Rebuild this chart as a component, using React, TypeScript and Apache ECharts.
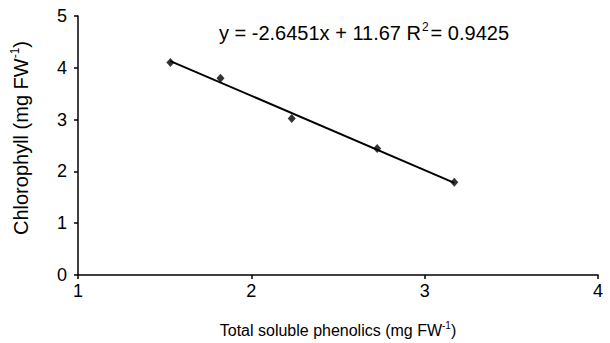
import React, { useEffect, useRef } from "react";
import * as echarts from "echarts";

const phenolics = [1.533, 1.822, 2.233, 2.726, 3.171];
const chlorophyll = [4.1, 3.8, 3.02, 2.44, 1.79];
const trendX = [1.533, 3.171];
const trendY = [4.13, 1.78];
const xTicks = [1, 2, 3, 4];
const yTicks = [0, 1, 2, 3, 4, 5];

const FONT = "'Liberation Sans', Arial, sans-serif";

export default function App() {
  const ref = useRef<HTMLDivElement>(null);
  useEffect(() => {
    if (!ref.current) return;
    const chart = echarts.init(ref.current, undefined, { renderer: "svg" });
    const points = phenolics.map((x, i) => [x, chlorophyll[i]]);
    const trend = trendX.map((x, i) => [x, trendY[i]]);
    chart.setOption({
      animation: false,
      backgroundColor: "#fff",
      textStyle: { fontFamily: FONT },
      title: {
        text: "{a|y = -2.6451x + 11.67 R}{s|2}{a|= 0.9425}",
        left: 359,
        top: 16,
        textAlign: "center",
        textStyle: {
          fontWeight: "normal",
          rich: {
            a: { fontSize: 20, fontWeight: "normal", fontFamily: FONT, color: "#000", lineHeight: 22, verticalAlign: "bottom" },
            s: { fontSize: 12, fontWeight: "normal", fontFamily: FONT, color: "#000", lineHeight: 22, verticalAlign: "top", padding: [0, 2, 0, 1] },
          },
        },
      },
      graphic: [
        {
          type: "text",
          x: 20,
          y: 138,
          rotation: Math.PI / 2,
          style: {
            text: "{a|Chlorophyll (mg FW}{s|-1}{a|)}",
            align: "center",
            verticalAlign: "middle",
            rich: {
              a: { fontSize: 20, fontFamily: FONT, fill: "#000", lineHeight: 22, verticalAlign: "bottom" },
              s: { fontSize: 12, fontFamily: FONT, fill: "#000", lineHeight: 22, verticalAlign: "top" },
            },
          },
        },
      ],
      grid: { left: 78, right: 12, top: 16, bottom: 67, containLabel: false },
      xAxis: {
        type: "value",
        min: xTicks[0],
        max: xTicks[xTicks.length - 1],
        interval: 1,
        splitLine: { show: false },
        axisLine: { show: true, onZero: false, lineStyle: { color: "#000", width: 1.5 } },
        axisTick: { show: true, length: 4, lineStyle: { color: "#000", width: 1.5 } },
        axisLabel: { fontSize: 18, color: "#000", margin: 7, fontFamily: FONT },
        name: "{a|Total soluble phenolics (mg FW}{s|-1}{a|)}",
        nameLocation: "middle",
        nameGap: 45,
        nameTextStyle: {
          rich: {
            a: { fontSize: 16, fontFamily: FONT, color: "#000", lineHeight: 18, verticalAlign: "bottom" },
            s: { fontSize: 10, fontFamily: FONT, color: "#000", lineHeight: 18, verticalAlign: "top" },
          },
        },
      },
      yAxis: {
        type: "value",
        min: yTicks[0],
        max: yTicks[yTicks.length - 1],
        interval: 1,
        splitLine: { show: false },
        axisLine: { show: true, lineStyle: { color: "#000", width: 1.5 } },
        axisTick: { show: true, length: 4, lineStyle: { color: "#000", width: 1.5 } },
        axisLabel: { fontSize: 18, color: "#000", margin: 11, fontFamily: FONT },
      },
      series: [
        {
          type: "line",
          data: trend,
          symbol: "none",
          lineStyle: { color: "#000", width: 2 },
          z: 2,
        },
        {
          type: "scatter",
          data: points,
          symbol: "diamond",
          symbolSize: [8, 9],
          itemStyle: { color: "#000" },
          z: 3,
        },
      ],
    });
    return () => chart.dispose();
  }, []);
  return (
    <div
      ref={ref}
      style={{ position: "fixed", left: 0, top: 0, width: 610, height: 343 }}
    />
  );
}
